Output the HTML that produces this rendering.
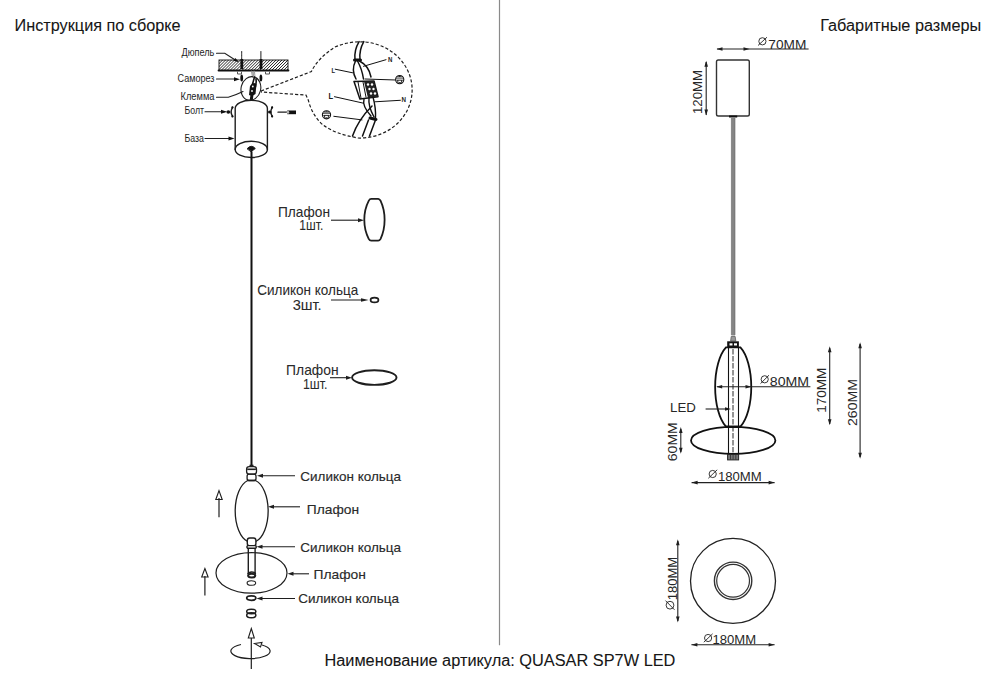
<!DOCTYPE html>
<html><head><meta charset="utf-8">
<style>
html,body{margin:0;padding:0;background:#fff;width:1000px;height:690px;overflow:hidden}
svg{display:block}
text{font-family:"Liberation Sans",sans-serif;fill:#1c1c1c}
.t{font-size:16px;fill:#161616;stroke:#161616;stroke-width:0.08}
.l{font-size:13px;fill:#2a2a2a;stroke:#2a2a2a;stroke-width:0.15}
.s{font-size:10px;fill:#1e1e1e}
.d{font-size:12.3px;fill:#262626}
</style></head><body>
<svg width="1000" height="690" viewBox="0 0 1000 690">
<defs>
<pattern id="hatch" width="2.1" height="2.1" patternUnits="userSpaceOnUse" patternTransform="rotate(45)">
<rect width="2.1" height="2.1" fill="#fff"/><line x1="0" y1="0" x2="0" y2="2.1" stroke="#111" stroke-width="1.3"/>
</pattern>
</defs>
<!-- divider -->
<line x1="499.5" y1="0" x2="499.5" y2="645.2" stroke="#8a8a8a" stroke-width="1.2"/>
<!-- titles -->
<text class="t" x="14.6" y="30.6" textLength="166" lengthAdjust="spacingAndGlyphs">Инструкция по сборке</text>
<text class="t" x="820.2" y="30.6" textLength="161" lengthAdjust="spacingAndGlyphs">Габаритные размеры</text>
<text class="t" x="324.4" y="665.5" textLength="351" lengthAdjust="spacingAndGlyphs">Наименование артикула: QUASAR SP7W LED</text>

<!-- ===== LEFT: assembly ===== -->
<g fill="none" stroke="#1e1e1e" stroke-width="1.3" stroke-linecap="round">
 <!-- ceiling plate -->
 <rect x="219" y="60" width="69" height="10.5" fill="url(#hatch)" stroke="#111" stroke-width="0.9"/>
 <line x1="218.6" y1="70.5" x2="288.4" y2="70.5" stroke="#111" stroke-width="2"/>
 <!-- screws -->
 <line x1="241.7" y1="51.5" x2="241.7" y2="60" stroke-width="1" stroke-dasharray="2,1"/>
 <line x1="260.9" y1="51.5" x2="260.9" y2="60" stroke-width="1"/>
 <rect x="240.4" y="59" width="2.8" height="10" fill="#111" stroke="none"/>
 <rect x="259.6" y="59" width="2.8" height="10" fill="#111" stroke="none"/>
 <ellipse cx="241.7" cy="78" rx="1.4" ry="3.6" fill="#111" stroke="none"/>
 <ellipse cx="260.9" cy="78" rx="1.4" ry="3.6" fill="#111" stroke="none"/>
 <path d="M237.5 72 v2 h4 v-2 M265.5 72 v2 h4 v-2" stroke="#555" stroke-width="1"/>
 <path d="M251.5 71 l1 6 M254 71 l-0.5 6" stroke="#888" stroke-width="0.9"/>
 <!-- small klemma ellipse -->
 <ellipse cx="250.9" cy="88.5" rx="9.8" ry="12" transform="rotate(14 250.9 88.5)" stroke-width="1.1"/>
 <path d="M252.5 71.5 L253.5 77 M254.5 71.5 L255 77" stroke="#999" stroke-width="0.9"/>
 <path d="M254.5 77 Q252 84 252 90 L250.5 100 M256 79 Q257 86 253 92 L252 100" stroke="#111" stroke-width="1.6"/>
 <path d="M250 86 Q253 81 256.5 84 L255.5 94 Q252 97 249 95 Z" fill="#111" stroke="none"/>
 <circle cx="252.8" cy="86.5" r="0.9" fill="#fff" stroke="none"/>
 <circle cx="252" cy="91" r="0.9" fill="#fff" stroke="none"/>
 <!-- base cylinder -->
 <path d="M235.2 149.5 L235.2 108.5 A16.1 8.2 0 0 1 267.4 108.5 L267.4 149.5" stroke-width="1.4"/>
 <ellipse cx="251.3" cy="149.4" rx="16.1" ry="8.1" stroke-width="1.4"/>
 <path d="M247.3 148.5 q4 -4.5 8 0 l-4 3 z" fill="#111" stroke-width="1"/>
 <!-- bolts -->
 <path d="M232.6 107.4 Q229.6 112 232.6 116.4" stroke-width="1.5"/>
 <circle cx="232.4" cy="107.4" r="1.1" fill="#111" stroke="none"/>
 <circle cx="232.4" cy="116.4" r="1.1" fill="#111" stroke="none"/>
 <ellipse cx="228.3" cy="112" rx="1.9" ry="1.7" fill="#111" stroke="none"/>
 <path d="M272.3 107.4 Q269.3 112 272.3 116.4" stroke-width="1.5"/>
 <circle cx="272.1" cy="107.4" r="1.1" fill="#111" stroke="none"/>
 <circle cx="272.1" cy="116.4" r="1.1" fill="#111" stroke="none"/>
 <ellipse cx="269.8" cy="112" rx="1.8" ry="1.6" fill="#111" stroke="none"/>
 <line x1="278" y1="112.2" x2="287.5" y2="112.2" stroke-width="1.3"/>
 <rect x="287.2" y="110.5" width="8.8" height="3.7" fill="#111" stroke="none"/>
 <ellipse cx="288" cy="112.3" rx="1.2" ry="1.5" fill="#bbb" stroke="none"/>
 <!-- cord -->
 <line x1="251.5" y1="152" x2="251.5" y2="466" stroke="#111" stroke-width="2"/>
 <!-- label leader lines -->
 <path d="M216.5 53.3 L224.8 53.3 L236 60.5" stroke-width="1.1"/>
 <path d="M216.5 79 L235 79" stroke-width="1.1"/>
 <path d="M216.5 97.2 L228.3 97.2 Q236 95 243 91.5" stroke-width="1.1"/>
 <path d="M205 111.8 L225 111.8" stroke-width="1.1"/>
 <path d="M205 138.5 L231 138.5" stroke-width="1.1"/>
</g>
<g fill="#111">
 <path d="M239 62.3 l-5.5 -1.5 l1.8 -2.8 z"/>
 <path d="M240 79.2 l-6 -2 v4 z"/>
 <path d="M227 111.8 l-6 -2 v4 z"/>
 <path d="M234.5 138.5 l-6 -2 v4 z"/>
</g>
<g>
<text class="s" x="181.5" y="55.8" textLength="32.8" lengthAdjust="spacingAndGlyphs">Дюпель</text>
<text class="s" x="177.5" y="81.5" textLength="37" lengthAdjust="spacingAndGlyphs">Саморез</text>
<text class="s" x="180.5" y="99.7" textLength="34" lengthAdjust="spacingAndGlyphs">Клемма</text>
<text class="s" x="184.5" y="114" textLength="19.5" lengthAdjust="spacingAndGlyphs">Болт</text>
<text class="s" x="184.5" y="142" textLength="19.5" lengthAdjust="spacingAndGlyphs">База</text>
</g>

<!-- magnified circle -->
<g fill="none" stroke="#1e1e1e" stroke-width="1.2" stroke-dasharray="3.2,2">
 <path d="M261 91 L311.4 71.5 Q318 58 335 47 Q348 41.5 362 41.8 A52 48 0 0 1 358 138 Q335 134 322.8 124.8 Q312 115 308.4 100.4 L306 95.1 L261 92"/>
</g>
<g fill="none" stroke="#111" stroke-linecap="round" stroke-linejoin="round">
 <!-- cable top -->
 <path d="M359.1 41.6 Q354 50 355 59.5 M363.8 41.6 Q359 50 360 59.5" stroke-width="1.5"/>
 <path d="M354.5 60 L360.5 60" stroke-width="3"/>
 <path d="M355.5 61 Q351 70 356 79 M357.5 61 Q362 69 363.5 79 M359.5 61 Q369 66 371 77" stroke-width="1.5"/>
 <!-- terminal block -->
 <path d="M354 81.5 L374 81 L378 96.7 L359.9 98.9 Z" stroke-width="1.5" fill="#fff"/>
 <path d="M363 82 l3 15 M358 82 l3 16" stroke-width="1"/>
 <path d="M364 81.5 L374 81 L378 96.7 L368 98 Z" fill="#222" stroke="none"/>
 <circle cx="368" cy="84.5" r="1.2" fill="#fff" stroke="none"/>
 <circle cx="372" cy="84.5" r="1.2" fill="#fff" stroke="none"/>
 <circle cx="369.5" cy="89" r="1.2" fill="#fff" stroke="none"/>
 <circle cx="373.5" cy="89" r="1.2" fill="#fff" stroke="none"/>
 <circle cx="371" cy="93.5" r="1.2" fill="#fff" stroke="none"/>
 <circle cx="375" cy="93.5" r="1.2" fill="#fff" stroke="none"/>
 <!-- lower wires -->
 <path d="M364 99 Q362 106 371 116 M369 98 Q368 106 374 117 M373 97 Q376 108 375.5 118" stroke-width="1.4"/>
 <path d="M370 118 L376 119.5" stroke-width="3"/>
 <path d="M372 106 Q358 120 352.5 136 M368.5 120 L362.5 136 M375.5 120 L369.5 136" stroke-width="1.5"/>
 <!-- label leaders -->
 <path d="M335.2 69.2 L352.6 72.8" stroke-width="1"/>
 <path d="M363.5 66.3 L386 59.7" stroke-width="1"/>
 <path d="M365 79 L395.4 80" stroke-width="1"/>
 <path d="M334.5 96.7 L363.5 103.2" stroke-width="1"/>
 <path d="M375 101.8 L400.4 100.3" stroke-width="1"/>
 <path d="M333.8 116.3 L362 119.9" stroke-width="1"/>
</g>
<g fill="#111" style="font-family:'Liberation Sans';font-weight:bold">
 <text x="387.9" y="62.2" font-size="7.6" textLength="4.4" lengthAdjust="spacingAndGlyphs">N</text>
 <text x="331.5" y="72.8" font-size="8" textLength="3.6" lengthAdjust="spacingAndGlyphs">L</text>
 <text x="328.6" y="98.9" font-size="8.5" textLength="4.6" lengthAdjust="spacingAndGlyphs">L</text>
 <text x="401.5" y="102.1" font-size="7.6" textLength="4.5" lengthAdjust="spacingAndGlyphs">N</text>
</g>
<g id="gnd1">
 <circle cx="399.7" cy="79.6" r="4.1" fill="#fff" stroke="#111" stroke-width="1.1"/>
 <path d="M395.9 78.6 A4.1 4.1 0 0 1 403.5 78.6 Z" fill="#111"/>
 <path d="M396.8 77.6 h5.8" stroke="#fff" stroke-width="0.7"/>
 <path d="M396.5 80.2 h6.4 M397.8 80.2 v2.4 M401.6 80.2 v2.4 M398.6 82.6 h2.2" stroke="#111" stroke-width="0.9" fill="none"/>
</g>
<g>
 <circle cx="326.5" cy="114.8" r="4.1" fill="#fff" stroke="#111" stroke-width="1.1"/>
 <path d="M322.7 113.8 A4.1 4.1 0 0 1 330.3 113.8 Z" fill="#111"/>
 <path d="M323.6 112.8 h5.8" stroke="#fff" stroke-width="0.7"/>
 <path d="M323.3 115.4 h6.4 M324.6 115.4 v2.4 M328.4 115.4 v2.4 M325.4 117.8 h2.2" stroke="#111" stroke-width="0.9" fill="none"/>
</g>

<!-- parts list -->
<g fill="none" stroke="#1e1e1e" stroke-width="1.3">
 <path d="M371.3 198.9 L378.2 198.9 Q379.6 199 380.6 200.8 C383.8 207.5 384.6 213 384.6 219.8 C384.6 226.5 383.8 232 380.6 238.8 Q379.6 240.7 378.1 240.7 L371.2 240.7 Q369.7 240.7 368.7 238.8 C365.2 232 364.3 226.5 364.3 219.8 C364.3 213 365.2 207.5 368.7 200.8 Q369.7 198.9 371.3 198.9 Z" stroke-width="1.8"/>
 <line x1="331" y1="220.2" x2="360" y2="220.2" stroke-width="1.1"/>
 <ellipse cx="374.5" cy="300" rx="3.9" ry="2.4" stroke-width="1.8"/>
 <line x1="331" y1="300" x2="364" y2="300" stroke-width="1.2"/>
 <ellipse cx="374.3" cy="377.6" rx="22.2" ry="7.3" stroke-width="1.9"/>
 <line x1="330" y1="377.7" x2="347" y2="377.7" stroke-width="1.1"/>
</g>
<g fill="#1e1e1e">
 <path d="M364 220.2 l-6 -2 v4 z"/>
 <path d="M368.6 300 l-7.6 -1.8 v3.6 z"/>
 <path d="M352 377.7 l-6 -2 v4 z"/>
</g>
<text class="l" x="278" y="216.7" style="font-size:14.3px;stroke-width:0.05" textLength="52" lengthAdjust="spacingAndGlyphs">Плафон</text>
<text class="l" x="299.3" y="229.7" style="font-size:14.3px;stroke-width:0.05" textLength="24" lengthAdjust="spacingAndGlyphs">1шт.</text>
<text class="l" x="257.2" y="294.5" style="font-size:14.3px;stroke-width:0.05" textLength="101" lengthAdjust="spacingAndGlyphs">Силикон кольца</text>
<text class="l" x="292.7" y="309.6" style="font-size:14.3px;stroke-width:0.05" textLength="29" lengthAdjust="spacingAndGlyphs">3шт.</text>
<text class="l" x="286.1" y="374.6" style="font-size:14.3px;stroke-width:0.05" textLength="52.5" lengthAdjust="spacingAndGlyphs">Плафон</text>
<text class="l" x="302.9" y="389.3" style="font-size:14.3px;stroke-width:0.05" textLength="24.5" lengthAdjust="spacingAndGlyphs">1шт.</text>

<!-- assembled lower -->
<g fill="none" stroke="#1e1e1e" stroke-width="1.3">
 <path d="M249.5 465.5 h4" stroke-width="1.6"/>
 <rect x="246.6" y="466.6" width="9.9" height="7.6" rx="2.6"/>
 <line x1="247.2" y1="469.3" x2="255.9" y2="469.3" stroke-width="1.6"/>
 <rect x="247.1" y="474.2" width="8.9" height="6.3" rx="2"/>
 <path d="M247.8 480.5 L255.5 480.5 A16.4 31.4 0 0 1 255.8 541.5 L247.6 541.5 A16.4 31.4 0 0 1 247.8 480.5 Z"/>
 <rect x="247.3" y="538" width="8.6" height="8" rx="2.4" fill="#fff" stroke-width="1.4"/>
 <path d="M247.6 545.6 Q246.3 546.9 247.6 548.3 L255.6 548.3 Q256.9 546.9 255.6 545.6 Z" fill="#fff" stroke-width="1.4"/>
 <path d="M248.3 548.3 v26 M255.1 548.3 v26" stroke-width="1.4"/>
 <path d="M248 574 a3.7 2 0 0 1 7.4 0" stroke-width="1.6"/>
 <ellipse cx="251.7" cy="575.6" rx="3.6" ry="1.9" fill="#fff" stroke-width="2"/>
 <ellipse cx="251.5" cy="572.9" rx="35.5" ry="20.3" stroke-width="1.2"/>
 <ellipse cx="251.4" cy="583" rx="4.3" ry="2.3" stroke-width="1.1"/>
 <ellipse cx="251.3" cy="598.1" rx="4.6" ry="2.2" stroke-width="1.7"/>
 <ellipse cx="251.3" cy="611.5" rx="4.6" ry="2.2" stroke-width="1.5"/>
 <ellipse cx="251.3" cy="615.3" rx="4.6" ry="2.5" stroke-width="1.5"/>
 <!-- leaders -->
 <line x1="261" y1="475.7" x2="295" y2="475.7" stroke-width="1.1"/>
 <line x1="271" y1="506.8" x2="300" y2="506.8" stroke-width="1.1"/>
 <line x1="261" y1="546.8" x2="295" y2="546.8" stroke-width="1.1"/>
 <line x1="292" y1="573.8" x2="309" y2="573.8" stroke-width="1.1"/>
 <line x1="260" y1="598.5" x2="295" y2="598.5" stroke-width="1.1"/>
 <!-- up arrows -->
 <line x1="219" y1="498" x2="219" y2="517.3" stroke-width="1.2"/>
 <path d="M219 490.6 L222.2 499.5 L215.8 499.5 Z" stroke-width="1.1"/>
 <line x1="204.9" y1="576" x2="204.9" y2="595.4" stroke-width="1.2"/>
 <path d="M204.9 568.5 L208.1 577 L201.7 577 Z" stroke-width="1.1"/>
 <!-- rotate -->
 <line x1="251.3" y1="638" x2="251.3" y2="669" stroke-width="1.2"/>
 <path d="M251.3 628.5 L254.3 638 L248.3 638 Z" stroke-width="1.1"/>
 <path d="M241 644.5 A19.6 7.5 0 1 0 262 645" stroke-width="1.2"/>
 <path d="M254.5 643.5 L262 642.5 L260.5 647 Z" stroke-width="1.1"/>
</g>
<g fill="#1e1e1e">
 <path d="M257 475.7 l6 -2 v4 z"/>
 <path d="M268 506.8 l6 -2 v4 z"/>
 <path d="M256.5 546.8 l6 -2 v4 z"/>
 <path d="M287.5 573.8 l6 -2 v4 z"/>
 <path d="M256.5 598.5 l6 -2 v4 z"/>
</g>
<text class="l" x="300.3" y="480.8" textLength="100.7" lengthAdjust="spacingAndGlyphs">Силикон кольца</text>
<text class="l" x="306.8" y="513.5" textLength="52.2" lengthAdjust="spacingAndGlyphs">Плафон</text>
<text class="l" x="300.3" y="551.6" textLength="100.7" lengthAdjust="spacingAndGlyphs">Силикон кольца</text>
<text class="l" x="313.5" y="578.6" textLength="52.3" lengthAdjust="spacingAndGlyphs">Плафон</text>
<text class="l" x="298.2" y="603.4" textLength="100.8" lengthAdjust="spacingAndGlyphs">Силикон кольца</text>


<!-- ===== RIGHT: dimensions ===== -->
<g fill="none" stroke="#333" stroke-width="1.3">
 <rect x="716.5" y="60" width="32.8" height="56" rx="1.8" stroke-width="1.4"/>
 <rect x="729" y="115.5" width="8.2" height="2" fill="#111" stroke="none"/>
 <rect x="731.4" y="117.5" width="3.6" height="218" fill="#858585" stroke="none"/>
 <line x1="731.4" y1="118" x2="731.4" y2="335" stroke="#666" stroke-width="0.6"/>
 <line x1="735" y1="118" x2="735" y2="335" stroke="#666" stroke-width="0.6"/>
 <path d="M730.6 341 L731.2 336.5 L735.2 336.5 L735.8 341 Z" fill="#999" stroke="#555" stroke-width="0.7"/>
 <line x1="717" y1="49" x2="808.6" y2="49" stroke="#222" stroke-width="1.1"/>
 <line x1="706.2" y1="62" x2="706.2" y2="115" stroke="#222" stroke-width="1.1"/>
</g>
<g fill="#1e1e1e">
 <path d="M716.5 49 l6 -1.8 v3.6 z"/>
 <path d="M749.5 49 l-6 -1.8 v3.6 z"/>
 <path d="M706.2 60.8 l-1.8 6 h3.6 z"/>
 <path d="M706.2 115.6 l-1.8 -6 h3.6 z"/>
</g>
<text class="d" x="768.3" y="48.7" textLength="38" lengthAdjust="spacingAndGlyphs">70MM</text>
<g fill="none" stroke="#222" stroke-width="0.9">
 <circle cx="762.4" cy="41.3" r="3.6"/><line x1="758" y1="45.5" x2="767" y2="37.2"/>
</g>
<text class="d" transform="translate(702.3 114) rotate(-90)" textLength="44.1" lengthAdjust="spacingAndGlyphs">120MM</text>

<!-- pendant side view -->
<g fill="none" stroke="#111" stroke-width="1.8">
 <path d="M726 347.3 L740.4 347.3 A18.6 43.6 0 0 1 740.4 426.6 L726 426.6 A18.6 43.6 0 0 1 726 347.3 Z"/>
 <ellipse cx="733.2" cy="440.4" rx="42.2" ry="13.5"/>
 <line x1="728.5" y1="347" x2="728.5" y2="455" stroke-width="1.1"/>
 <line x1="738.5" y1="347" x2="738.5" y2="455" stroke-width="1.1"/>
 <line x1="733" y1="349" x2="733" y2="455" stroke-width="0.9" stroke-dasharray="5.5,1.5"/>
 <line x1="726" y1="426.8" x2="740.4" y2="426.8" stroke-width="2.2"/>
</g>
<rect x="727.2" y="341.3" width="11.7" height="6.3" fill="#111"/>
<rect x="729.5" y="343.3" width="3" height="2.2" fill="#fff"/>
<rect x="734" y="343.3" width="3" height="2.2" fill="#fff"/>
<rect x="727.6" y="454.4" width="11" height="5.5" fill="#777" stroke="#222" stroke-width="1"/>
<path d="M730.5 455 v4.5 M733.1 455 v4.5 M735.8 455 v4.5" stroke="#222" stroke-width="0.7"/>
<g fill="none" stroke="#222" stroke-width="1.1">
 <line x1="717" y1="386.8" x2="810.4" y2="386.8"/>
 <line x1="705.6" y1="409" x2="729" y2="409"/>
 <line x1="829.7" y1="348" x2="829.7" y2="424"/>
 <line x1="860.1" y1="344" x2="860.1" y2="457"/>
 <line x1="680.8" y1="429" x2="680.8" y2="452"/>
 <line x1="691.6" y1="482.6" x2="774.6" y2="482.6"/>
</g>
<g fill="#1e1e1e">
 <path d="M716.2 386.8 l6 -1.8 v3.6 z"/>
 <path d="M751.5 386.8 l-6 -1.8 v3.6 z"/>
 <path d="M731 409 l-6 -1.8 v3.6 z"/>
 <path d="M829.7 346.2 l-1.8 6 h3.6 z"/>
 <path d="M829.7 425.3 l-1.8 -6 h3.6 z"/>
 <path d="M860.1 342.2 l-1.8 6 h3.6 z"/>
 <path d="M860.1 458.8 l-1.8 -6 h3.6 z"/>
 <path d="M680.8 427 l-1.8 6 h3.6 z"/>
 <path d="M680.8 453.8 l-1.8 -6 h3.6 z"/>
 <path d="M691.6 482.6 l6 -1.8 v3.6 z"/>
 <path d="M774.6 482.6 l-6 -1.8 v3.6 z"/>
</g>
<text class="d" x="769.8" y="385.8" textLength="39.3" lengthAdjust="spacingAndGlyphs">80MM</text>
<g fill="none" stroke="#222" stroke-width="0.9">
 <circle cx="764.7" cy="379.3" r="3.6"/><line x1="760.5" y1="383.6" x2="769" y2="375.2"/>
</g>
<text class="d" x="670" y="412.4" textLength="25.8" lengthAdjust="spacingAndGlyphs">LED</text>
<text class="d" transform="translate(826.4 412.8) rotate(-90)" textLength="45" lengthAdjust="spacingAndGlyphs">170MM</text>
<text class="d" transform="translate(856.9 426) rotate(-90)" textLength="47" lengthAdjust="spacingAndGlyphs">260MM</text>
<text class="d" transform="translate(677 461.2) rotate(-90)" textLength="39" lengthAdjust="spacingAndGlyphs">60MM</text>
<text class="d" x="717.9" y="480.9" textLength="43.8" lengthAdjust="spacingAndGlyphs">180MM</text>
<g fill="none" stroke="#222" stroke-width="0.9">
 <circle cx="712.7" cy="474" r="3.6"/><line x1="708.3" y1="478.3" x2="717.2" y2="469.8"/>
</g>

<!-- bottom view -->
<g fill="none" stroke="#222">
 <circle cx="733" cy="580.9" r="42.5" stroke-width="1.3"/>
 <circle cx="733.1" cy="580.8" r="18.7" stroke="#333" stroke-width="1.4"/>
 <circle cx="733.1" cy="580.8" r="16.4" stroke="#333" stroke-width="1.2"/>
</g>
<g fill="none" stroke="#222" stroke-width="1.1">
 <line x1="677.8" y1="541" x2="677.8" y2="621"/>
 <line x1="691.4" y1="644.7" x2="774.6" y2="644.7"/>
</g>
<g fill="#1e1e1e">
 <path d="M677.8 539.3 l-1.8 6 h3.6 z"/>
 <path d="M677.8 622.4 l-1.8 -6 h3.6 z"/>
 <path d="M691.4 644.7 l6 -1.8 v3.6 z"/>
 <path d="M774.6 644.7 l-6 -1.8 v3.6 z"/>
</g>
<text class="d" x="712.5" y="643.7" textLength="43.6" lengthAdjust="spacingAndGlyphs">180MM</text>
<g fill="none" stroke="#222" stroke-width="0.9">
 <circle cx="708.1" cy="638" r="3.6"/><line x1="703.8" y1="642.2" x2="712.6" y2="633.8"/>
</g>
<text class="d" transform="translate(676.6 600.2) rotate(-90)" textLength="43.2" lengthAdjust="spacingAndGlyphs">180MM</text>
<g fill="none" stroke="#222" stroke-width="0.9">
 <circle cx="670" cy="605.2" r="3.9"/><line x1="665.5" y1="600.6" x2="674.5" y2="609.8"/>
</g>

</svg>
</body></html>
